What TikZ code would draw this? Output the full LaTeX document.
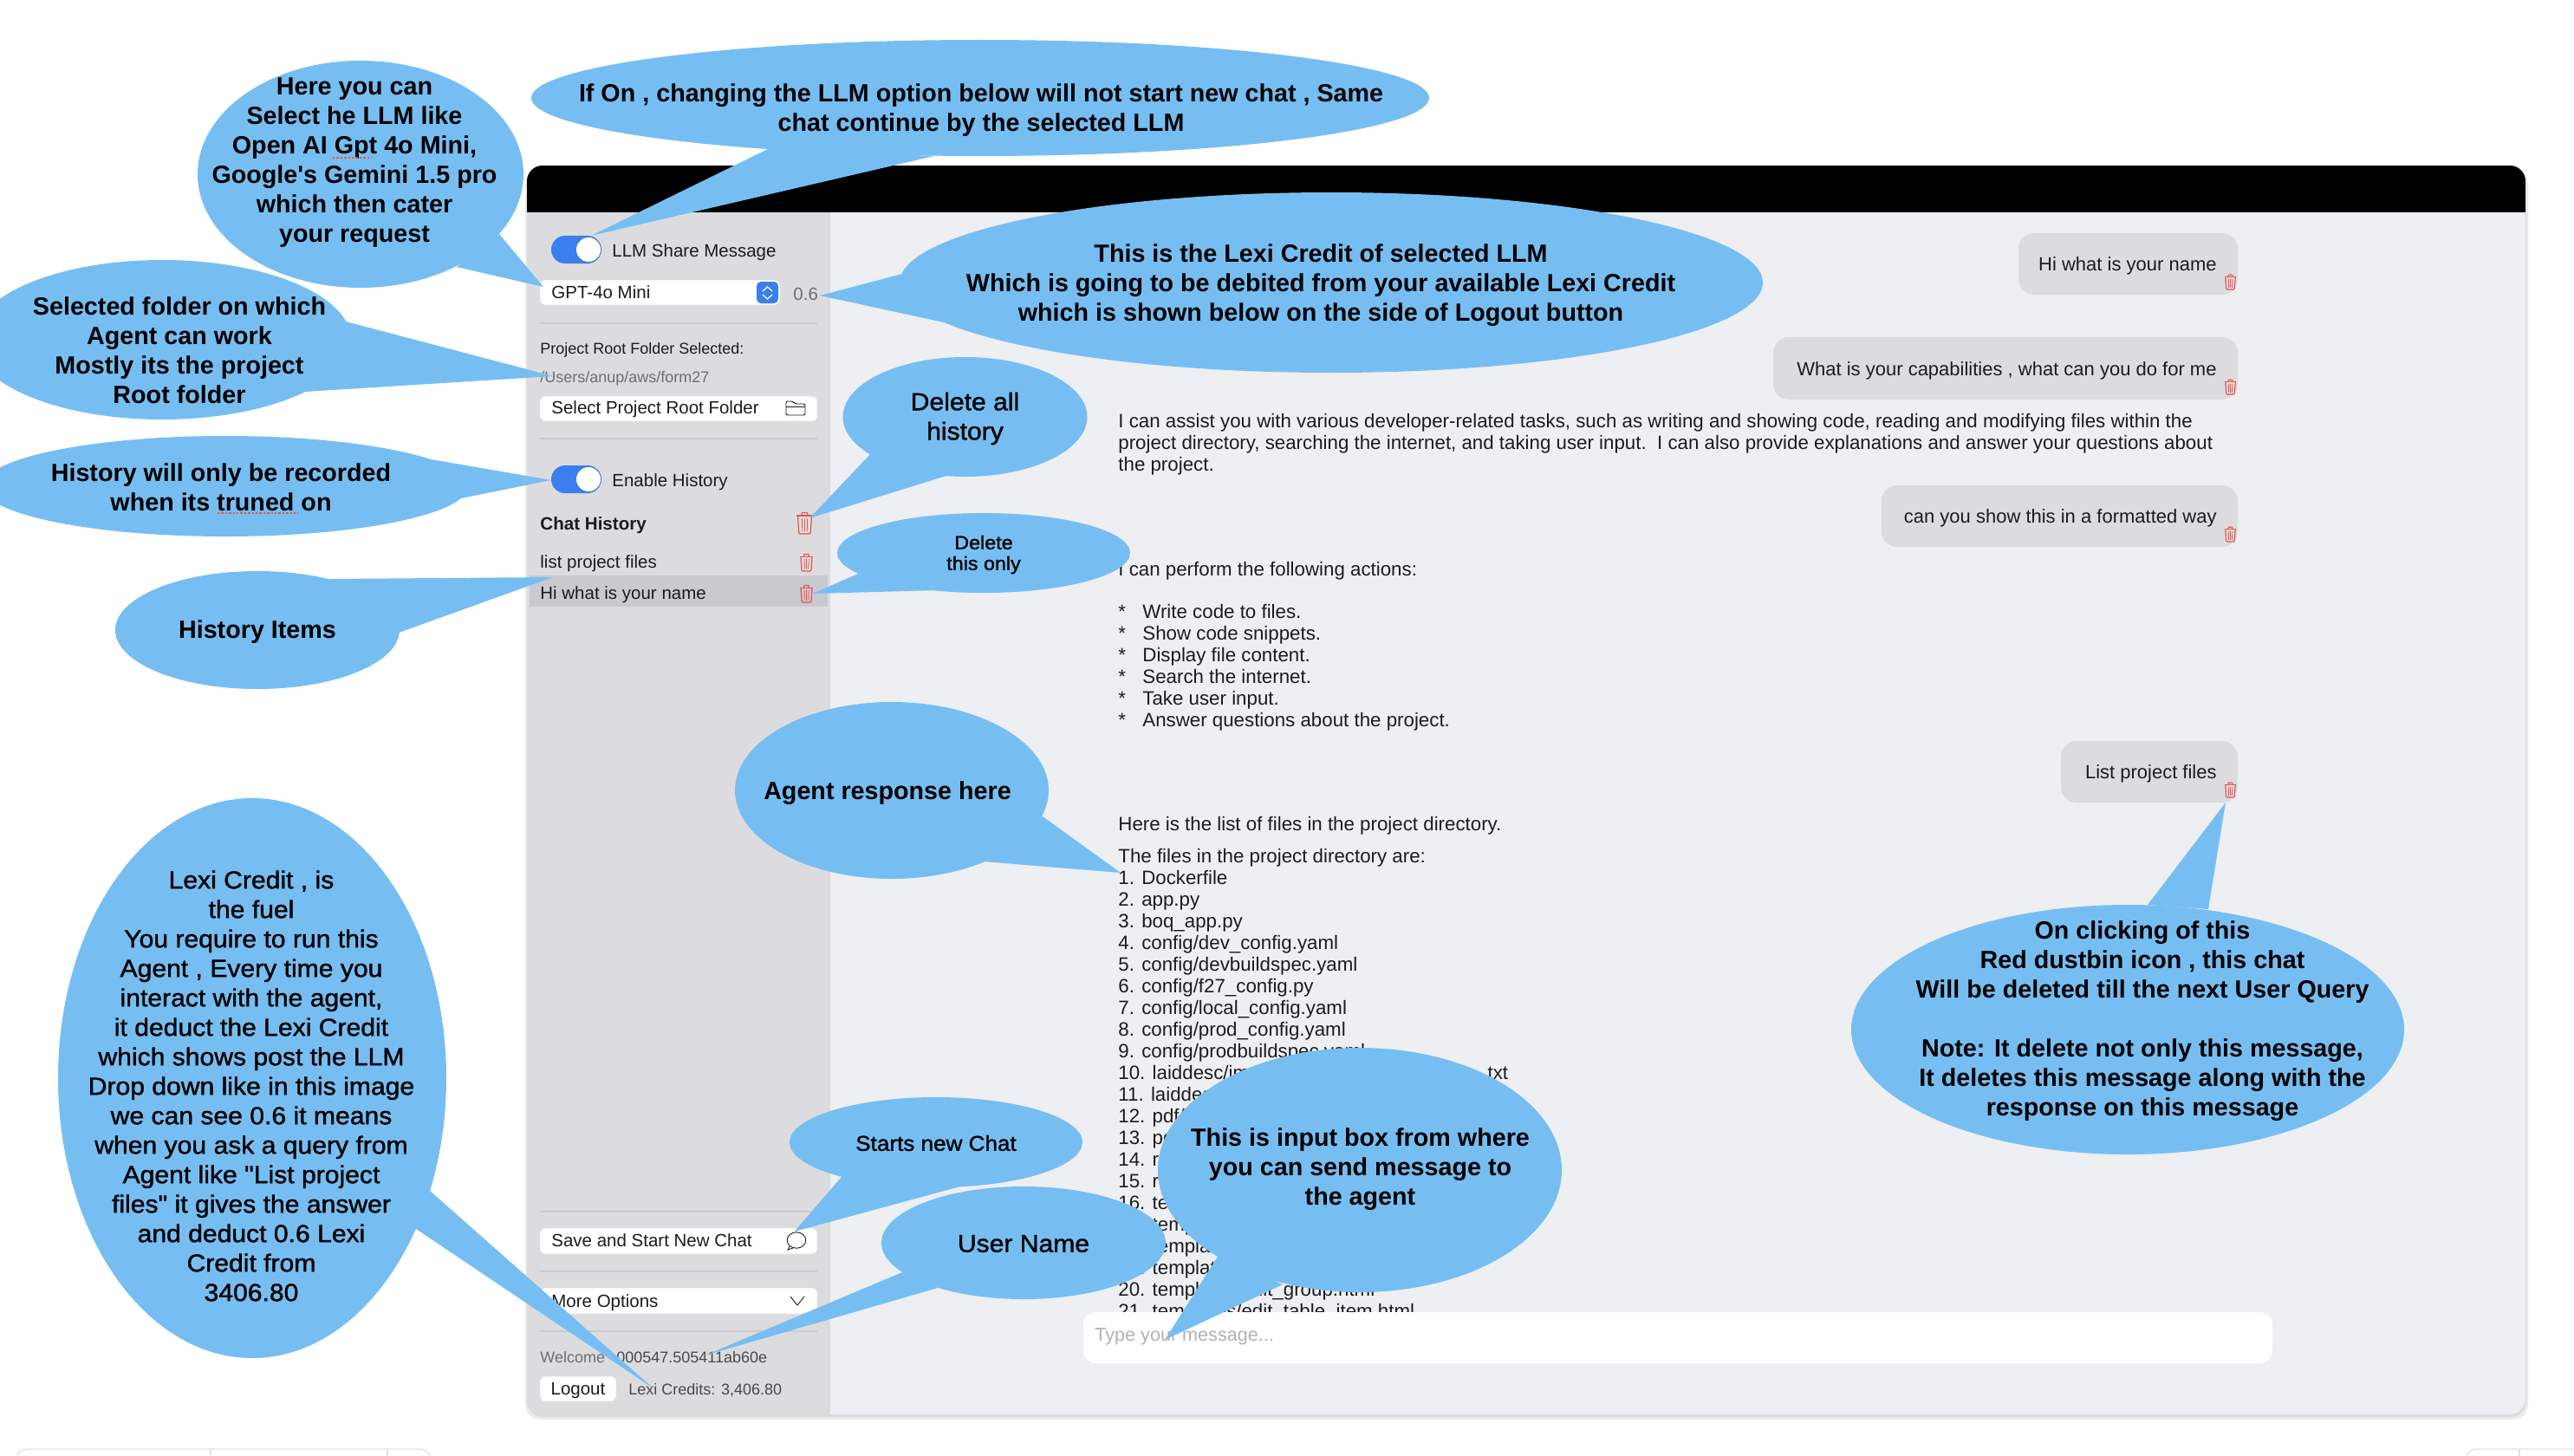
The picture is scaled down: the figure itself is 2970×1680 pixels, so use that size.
\documentclass[tikz,border=0pt]{standalone}
\usepackage{fontspec}
\setmainfont{Liberation Sans}
\newfontfamily\callite[FakeBold=1.3,FakeStretch=1.06]{Liberation Sans}
\newfontfamily\calbold{Liberation Sans Bold}
\definecolor{bub}{RGB}{118,190,242}
\definecolor{panel}{RGB}{238,239,243}
\definecolor{side}{RGB}{220,220,223}
\definecolor{rowsel}{RGB}{201,201,207}
\definecolor{tog}{RGB}{59,127,239}
\definecolor{trashred}{RGB}{232,84,74}
\definecolor{ink}{RGB}{28,28,30}
\definecolor{dimtxt}{RGB}{110,110,115}
\definecolor{rulec}{RGB}{203,203,207}
\tikzset{
  x=0.5pt,y=-0.5pt,
  bubble/.style={fill=bub},
  call/.style={align=center,inner sep=0,text=black,font=\callite\fontsize{14.2}{17}\selectfont},
  calb/.style={align=center,inner sep=0,text=black,font=\calbold\fontsize{14.35}{17}\selectfont},
  ui/.style={anchor=base west,inner sep=0,text=ink,font=\fontsize{10.25}{12}\selectfont},
  uim/.style={anchor=base west,inner sep=0,text=ink,font=\fontsize{11.15}{12}\selectfont},
  uis/.style={anchor=base west,inner sep=0,text=dimtxt,font=\fontsize{9}{12}\selectfont},
  uie/.style={anchor=base east,inner sep=0,text=ink,font=\fontsize{11}{12}\selectfont},
  btn/.style={fill=white,rounded corners=3pt,draw=black!12,line width=0.3pt},
  divl/.style={draw=rulec,line width=0.6pt},
  chatb/.style={fill=side,rounded corners=9pt},
  trashline/.style={draw=trashred,line width=0.6pt},
  icon/.style={draw=ink,line width=0.45pt},
  squig/.style={draw=trashred,line width=0.9pt,dash pattern=on 1.2pt off 1pt},
}
% trash icon: left, top, width, height in reference pixels
\newcommand{\trashicon}[4]{%
  \begin{scope}[shift={(#1,#2)},x=#3*0.5pt,y=-#4*0.5pt]
    \draw[trashline] (0.05,0.16)--(0.95,0.16);
    \draw[trashline] (0.32,0.16)--(0.36,0.02)--(0.64,0.02)--(0.68,0.16);
    \draw[trashline,rounded corners=0.6pt] (0.12,0.16)--(0.18,1)--(0.82,1)--(0.88,0.16);
    \draw[trashline,line width=0.4pt] (0.35,0.3)--(0.37,0.88) (0.5,0.3)--(0.5,0.88) (0.65,0.3)--(0.63,0.88);
  \end{scope}}
\newcommand{\toggleon}[2]{%
  \fill[tog,rounded corners=8pt] (#1,#2) rectangle ++(58,32);
  \fill[white,draw=tog!70!black,line width=0.2pt] (#1+43,#2+16) circle[radius=7.2pt];}
\begin{document}
\begin{tikzpicture}
\useasboundingbox (0,0) rectangle (2970,1680);
\fill[white] (0,0) rectangle (2970,1680);
\clip (0,0) rectangle (2970,1680);

% window chrome below the window
\draw[draw=black!12,line width=0.6pt,rounded corners=6pt] (19,1700)--(19,1672)--(497,1672)--(497,1700);
\draw[draw=black!12,line width=0.6pt] (243,1672)--(243,1680) (447,1672)--(447,1680);
\draw[draw=black!12,line width=0.6pt,rounded corners=6pt] (2845,1700)--(2845,1672)--(2990,1672);
\draw[draw=black!12,line width=0.6pt] (2907,1672)--(2907,1680);

% window
\fill[black!8,rounded corners=9pt] (606,195) rectangle (2917,1638);
\fill[black!14,rounded corners=9pt] (608,195) rectangle (2915,1635);
\begin{scope}
  \clip[rounded corners=9pt] (608,191) rectangle (2914,1632);
  \fill[panel] (608,191) rectangle (2914,1632);
  \fill[side] (608,191) rectangle (958,1632);
  \fill[black] (608,191) rectangle (2914,245);
  \fill[rowsel] (611,664) rectangle (955,700);
\end{scope}

% sidebar
\toggleon{636}{272}
\node[ui] (llmshare) at (706,296) {LLM Share Message};
\path[btn] (623,323) rectangle (900,352);
\node[ui] (gptname) at (636,344) {GPT-4o Mini};
\fill[tog,rounded corners=2.5pt] (873,325) rectangle (898,350);
\draw[white,line width=0.6pt] (880,336)--(885.5,331)--(891,336) (880,340)--(885.5,345)--(891,340);
\node[ui,text=dimtxt] (sixth) at (915,346) {0.6};
\draw[divl] (623,373)--(943,373);
\node[uis,text=ink] (rootlab) at (623,408) {Project Root Folder Selected:};
\node[uis] (rootpath) at (623,441) {/Users/anup/aws/form27};
\path[btn] (623,457) rectangle (943,486);
\node[ui] (selbtn) at (636,477) {Select Project Root Folder};
\draw[icon,rounded corners=1pt] (907,479)--(907,463)--(915,463)--(917,466)--(929,466)--(929,479)--cycle;
\draw[icon] (907,469)--(929,469);
\draw[divl] (623,506)--(943,506);
\toggleon{636}{537}
\node[ui] (enhist) at (706,561) {Enable History};
\node[ui,font=\bfseries\fontsize{10.3}{12}\selectfont] (chathist) at (623,611) {Chat History};
\trashicon{918}{591}{21}{25}
\node[ui] (hist1) at (623,655) {list project files};
\trashicon{922}{639}{17}{20}
\node[ui] (hist2) at (623,691) {Hi what is your name};
\trashicon{922}{675}{17}{20}
\draw[divl] (623,1398)--(943,1398);
\path[btn] (623,1417) rectangle (943,1447);
\node[ui] (savebtn) at (636,1438) {Save and Start New Chat};
\draw[icon] (919,1431) ellipse[x radius=5.4pt,y radius=4.6pt];
\draw[icon] (911,1438)--(909,1442)--(915,1440);
\draw[divl] (623,1467)--(943,1467);
\path[btn] (623,1486) rectangle (943,1516);
\node[ui] (moreopt) at (636,1508) {More Options};
\draw[icon] (912,1496)--(920,1506)--(928,1496);
\draw[divl] (623,1536)--(943,1536);
\node[uis] (welcome) at (623,1572) {Welcome};
\node[uis,text=ink!80] (userid) at (711,1572) {000547.505411ab60e};
\path[btn] (623,1588) rectangle (711,1617);
\node[anchor=base,inner sep=0,text=ink,font=\fontsize{10.25}{12}\selectfont] (logout) at (667,1609) {Logout};
\node[uis,text=ink!80] (credits) at (725,1609) {Lexi Credits: 3,406.80};

% chat bubbles
\path[chatb] (2329,269) rectangle (2582,340);
\node[uie] (b1t) at (2558,312) {Hi what is your name};
\trashicon{2566}{317}{15}{17}
\path[chatb] (2046,389) rectangle (2582,461);
\node[uie] (b2t) at (2558,433) {What is your capabilities , what can you do for me};
\trashicon{2566}{438}{15}{17}
\path[chatb] (2171,560) rectangle (2582,631);
\node[uie] (b3t) at (2558,603) {can you show this in a formatted way};
\trashicon{2566}{608}{15}{17}
\path[chatb] (2378,855) rectangle (2582,926);
\node[uie] (b4t) at (2558,898) {List project files};
\trashicon{2566}{903}{15}{17}

% agent text
\node[uim] (a1) at (1290,493) {I can assist you with various developer-related tasks, such as writing and showing code, reading and modifying files within the};
\node[uim] (a2) at (1290,518) {project directory, searching the internet, and taking user input.\ \ I can also provide explanations and answer your questions about};
\node[uim] (a3) at (1290,543) {the project.};
\node[uim] (p1) at (1290,664) {I can perform the following actions:};
\foreach \yy/\txt [count=\n] in {713/Write code to files.,738/Show code snippets.,763/Display file content.,788/Search the internet.,813/Take user input.,838/Answer questions about the project.}{
  \node[uim] (st\n) at (1290,\yy) {*};
  \node[uim] (bu\n) at (1318,\yy) {\txt};
}
\node[uim] (l0) at (1290,958) {Here is the list of files in the project directory.};
\node[uim] (l00) at (1290,995) {The files in the project directory are:};
\foreach \yy/\txt [count=\n] in {
 1020/{1. Dockerfile},1045/{2. app.py},1070/{3. boq\_app.py},1095/{4. config/dev\_config.yaml},1120/{5. config/devbuildspec.yaml},
 1145/{6. config/f27\_config.py},1170/{7. config/local\_config.yaml},1195/{8. config/prod\_config.yaml},1220/{9. config/prodbuildspec.yaml},
 1245/{10. laiddesc/im},1270/{11. laiddes},1295/{12. pdf/},1320/{13. pd},1345/{14. re},1370/{15. re},1395/{16. te},1420/{17. temp},1445/{18. templa},1470/{19. templat},
 1495/{20. templates/edit\_group.html},1520/{21. templates/edit\_table\_item.html}}{
  \node[uim] (li\n) at (1290,\yy) {\txt};
}
\node[uim] (li10b) at (1710,1245) {.txt};

% input box
\fill[white,rounded corners=7pt] (1250,1514) rectangle (2622,1573);
\node[uim,text=black!30,font=\fontsize{10.8}{12}\selectfont] (ph) at (1263,1547) {Type your message...};

% callout shapes
\coordinate (c1) at (416,201);
\coordinate (c1tip) at (627,331);
\fill[bubble] (c1) ellipse[x radius=188,y radius=131];
\fill[bubble] (576,270)--(c1tip)--(527,308)--cycle;

\coordinate (c2) at (1131,113);
\coordinate (c2tip) at (682,272);
\fill[bubble] (c2) ellipse[x radius=518,y radius=67];
\fill[bubble] (886,172)--(c2tip)--(1078,180)--cycle;

\coordinate (c3) at (1536,326);
\coordinate (c3tip) at (946,341);
\fill[bubble] (c3) ellipse[x radius=498,y radius=104];
\fill[bubble] (1041,316)--(c3tip)--(1094,373)--cycle;

\coordinate (c4) at (187,392);
\coordinate (c4tip) at (638,434);
\fill[bubble] (c4) ellipse[x radius=218,y radius=92];
\fill[bubble] (399,371)--(c4tip)--(352,452)--cycle;

\coordinate (c5) at (260,561);
\coordinate (c5tip) at (636,554);
\fill[bubble] (c5) ellipse[x radius=280,y radius=58];
\fill[bubble] (497,530)--(c5tip)--(532,575)--cycle;

\coordinate (c6) at (297,727);
\coordinate (c6tip) at (638,666);
\fill[bubble] (c6) ellipse[x radius=164,y radius=68];
\fill[bubble] (381,668)--(c6tip)--(460,730)--cycle;

\coordinate (c7) at (1113.5,481);
\coordinate (c7tip) at (934,598);
\fill[bubble] (c7) ellipse[x radius=141,y radius=69];
\fill[bubble] (1008,520)--(c7tip)--(1092,549)--cycle;

\coordinate (c8) at (1135,638);
\coordinate (c8tip) at (937.5,685);
\fill[bubble] (c8) ellipse[x radius=169,y radius=46];
\fill[bubble] (990,662)--(c8tip)--(1083,681)--cycle;

\coordinate (c9) at (1029,912);
\coordinate (c9tip) at (1293,1007);
\fill[bubble] (c9) ellipse[x radius=181,y radius=102];
\fill[bubble] (1203,942)--(c9tip)--(1134,994)--cycle;

\coordinate (c10) at (291,1244);
\coordinate (c10tip) at (754,1602);
\fill[bubble] (c10) ellipse[x radius=224,y radius=323];
\fill[bubble] (496,1374)--(c10tip)--(480,1418)--cycle;

\coordinate (c11) at (1080,1318);
\coordinate (c11tip) at (916.5,1421);
\fill[bubble] (c11) ellipse[x radius=169,y radius=52];
\fill[bubble] (971,1358)--(c11tip)--(1108,1369)--cycle;

\coordinate (c12) at (1181,1434);
\coordinate (c12tip) at (813,1564);
\fill[bubble] (c12) ellipse[x radius=164,y radius=65];
\fill[bubble] (1041,1468)--(c12tip)--(1082,1486)--cycle;

\coordinate (c13) at (1569,1350);
\coordinate (c13tip) at (1344,1546);
\fill[bubble] (c13) ellipse[x radius=233,y radius=141];
\fill[bubble] (1405,1450)--(c13tip)--(1480,1482)--cycle;

\coordinate (c14) at (2455,1188);
\coordinate (c14tip) at (2568,926);
\fill[bubble] (c14) ellipse[x radius=319,y radius=144];
\fill[bubble] (2478,1044)--(c14tip)--(2548,1049)--cycle;

% callout texts
\node[calb] (t1) at (409,188) {Here you can\\Select he LLM like\\Open AI Gpt 4o Mini,\\Google's Gemini 1.5 pro\\which then cater\\your request};
\draw[squig] (384,182)--(429,182);
\node[calb] (t2) at (1132,127) {If On , changing the LLM option below will not start new chat , Same\\chat continue by the selected LLM};
\node[calb] (t3) at (1524,329) {This is the Lexi Credit of selected LLM\\Which is going to be debited from your available Lexi Credit\\which is shown below on the side of Logout button};
\node[calb] (t4) at (207,404) {Selected folder on which\\Agent can work\\Mostly its the project\\Root folder};
\node[calb] (t5) at (255,562) {History will only be recorded\\when its truned on};
\draw[squig] (251,592)--(344,592);
\node[calb] (t6) at (297,729) {History Items};
\node[call] (t7) at (1113.5,483) {Delete all\\history};
\node[call,font=\callite\fontsize{11}{12}\selectfont] (t8) at (1135,640) {Delete\\this only};
\node[calb] (t9) at (1024,915) {Agent response here};
\node[call] (t10) at (290,1253) {Lexi Credit , is\\the fuel\\You require to run this\\Agent , Every time you\\interact with the agent,\\it deduct the Lexi Credit\\which shows post the LLM\\Drop down like in this image\\we can see 0.6 it means\\when you ask a query from\\Agent like "List project\\files" it gives the answer\\and deduct 0.6 Lexi\\Credit from\\3406.80};
\node[call,font=\callite\fontsize{12.3}{14}\selectfont] (t11) at (1080,1319) {Starts new Chat};
\node[call] (t12) at (1181,1435) {User Name};
\node[calb] (t13) at (1569.5,1349) {This is input box from where\\you can send message to\\the agent};
\node[calb] (t14) at (2472,1178) {On clicking of this\\Red dustbin icon , this chat\\Will be deleted till the next User Query\\[17pt]Note: It delete not only this message,\\It deletes this message along with the\\response on this message};
\end{tikzpicture}
\end{document}
